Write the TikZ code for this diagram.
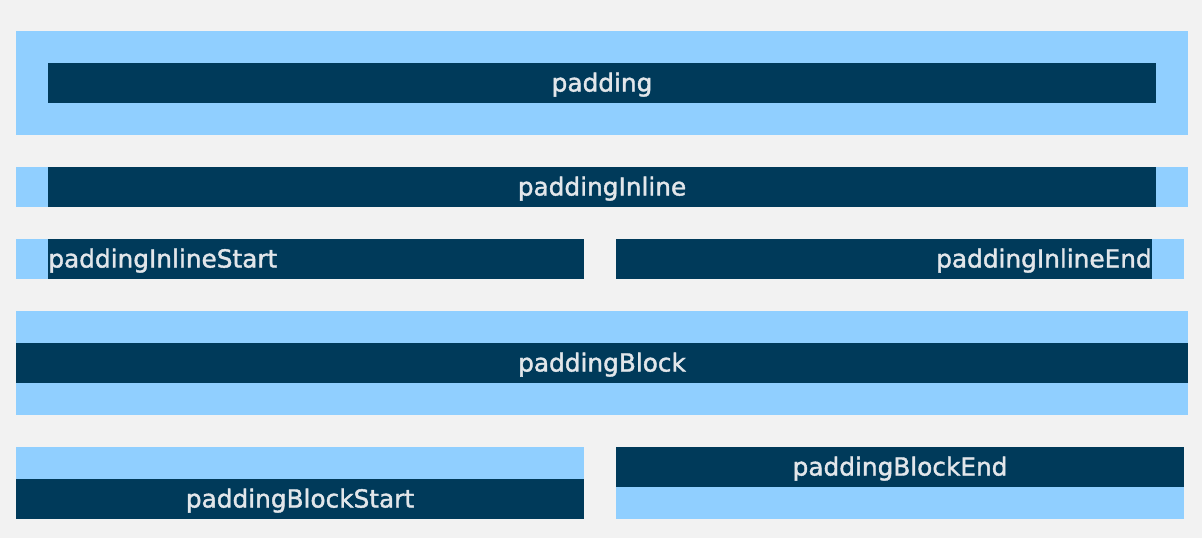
\documentclass[tikz,border=0pt]{standalone}
\usepackage{fontspec}
\newfontfamily\lblfont{DejaVu Sans}[FakeBold=1.6]
\usepackage{xcolor}
\definecolor{pagebg}{HTML}{F2F2F2}
\definecolor{padblue}{HTML}{90CFFF}
\definecolor{contentblue}{HTML}{003A5A}
\definecolor{labelgray}{HTML}{E2E6EA}

\begin{document}
\begin{tikzpicture}[
  x=0.02cm, y=-0.02cm,
  padarea/.style={fill=padblue},
  content/.style={fill=contentblue},
  lbl/.style={text=labelgray, inner sep=0pt, font=\lblfont\fontsize{14.1pt}{16pt}\selectfont}
]
\useasboundingbox[fill=pagebg] (0,0) rectangle (1202,538);

% padding
\fill[padarea] (16,31) rectangle (1188,135);
\fill[content] (48,63) rectangle (1156,103);
\node[lbl, anchor=base] (pad) at (602,91.5) {padding};

% paddingInline
\fill[padarea] (16,167) rectangle (1188,207);
\fill[content] (48,167) rectangle (1156,207);
\node[lbl, anchor=base] (padinline) at (602,195.5) {paddingInline};

% paddingInlineStart / paddingInlineEnd
\fill[padarea] (16,239) rectangle (584,279);
\fill[content] (48,239) rectangle (584,279);
\node[lbl, anchor=base west] (padinstart) at (48,267.5) {paddingInlineStart};
\fill[padarea] (616,239) rectangle (1184,279);
\fill[content] (616,239) rectangle (1152,279);
\node[lbl, anchor=base east] (padinend) at (1152,267.5) {paddingInlineEnd};

% paddingBlock
\fill[padarea] (16,311) rectangle (1188,415);
\fill[content] (16,343) rectangle (1188,383);
\node[lbl, anchor=base] (padblock) at (602,371.5) {paddingBlock};

% paddingBlockStart / paddingBlockEnd
\fill[padarea] (16,447) rectangle (584,519);
\fill[content] (16,479) rectangle (584,519);
\node[lbl, anchor=base] (padbstart) at (300,507.5) {paddingBlockStart};
\fill[padarea] (616,447) rectangle (1184,519);
\fill[content] (616,447) rectangle (1184,487);
\node[lbl, anchor=base] (padbend) at (900,475.5) {paddingBlockEnd};
\end{tikzpicture}
\end{document}
